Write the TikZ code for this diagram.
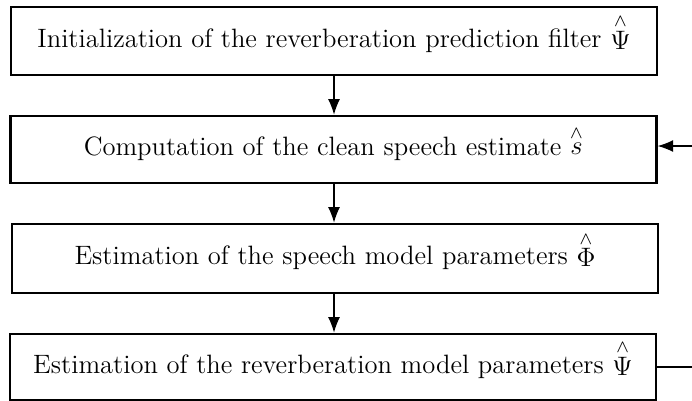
\documentclass[tikz,border=0pt]{standalone}
\usetikzlibrary{arrows.meta}
\begin{document}
\begin{tikzpicture}[x=0.45pt,y=-0.45pt,
  stepbox/.style={draw,line width=1.25pt,inner sep=0pt,text height=8pt,text depth=2.6pt,minimum width=646*0.45pt,font=\fontsize{11.95pt}{14pt}\selectfont},
  conn/.style={line width=0.5pt,-{Latex[length=7pt,width=5.4pt]}}]
\useasboundingbox (0,0) rectangle (692,400);
\node[stepbox,minimum height=68*0.45pt] (b1) at (334,41) {Initialization of the reverberation prediction filter $\stackrel{\wedge}{\Psi}$};
\node[stepbox,minimum height=67*0.45pt] (b2) at (333.25,149.5) {Computation of the clean speech estimate $\stackrel{\wedge}{s}$};
\node[stepbox,minimum height=69*0.45pt] (b3) at (335,258.5) {Estimation of the speech model parameters $\stackrel{\wedge}{\Phi}$};
\node[stepbox,minimum height=66*0.45pt] (b4) at (333,367) {Estimation of the reverberation model parameters $\stackrel{\wedge}{\Psi}$};
\draw[conn] (b1.south -| 334,0) -- (b2.north -| 334,0);
\draw[conn] (b2.south -| 334,0) -- (b3.north -| 334,0);
\draw[conn] (b3.south -| 334,0) -- (b4.north -| 334,0);
\coordinate (r4) at (720,367);
\coordinate (r2) at (720,146);
\draw[conn] (b4.east) -- (r4) -- (r2) -- (b2.east |- r2);
\end{tikzpicture}
\end{document}
